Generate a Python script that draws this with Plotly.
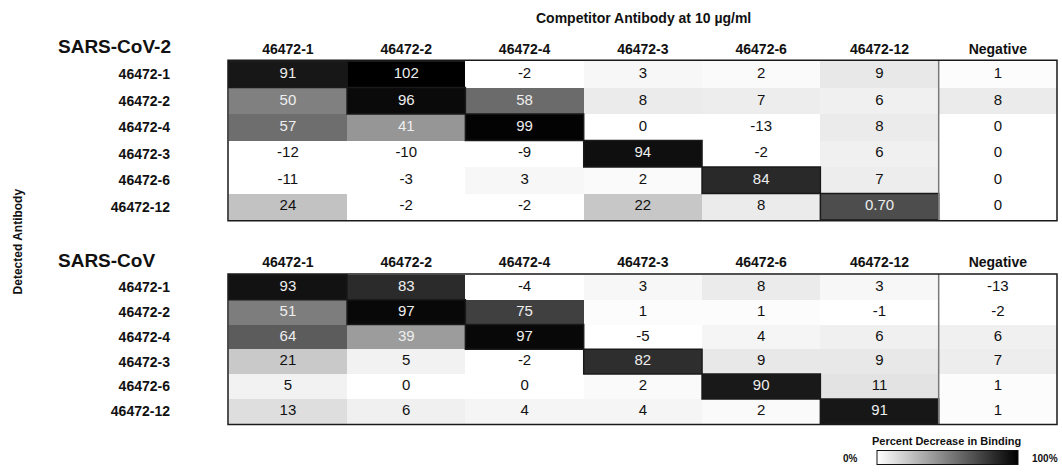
import plotly.graph_objects as go

# Antibody panel (rows = detected antibody, columns = competitor antibody)
antibodies = ["46472-1", "46472-2", "46472-4", "46472-3", "46472-6", "46472-12"]
competitors = antibodies + ["Negative"]

# Percent decrease in binding, SARS-CoV-2
cov2_values = [
    [91, 102, -2, 3, 2, 9, 1],
    [50, 96, 58, 8, 7, 6, 8],
    [57, 41, 99, 0, -13, 8, 0],
    [-12, -10, -9, 94, -2, 6, 0],
    [-11, -3, 3, 2, 84, 7, 0],
    [24, -2, -2, 22, 8, 70, 0],
]
# 46472-12 self-competition is reported as a fraction (0.70 = 70 %)
cov2_label_overrides = {(5, 5): "0.70"}

# Percent decrease in binding, SARS-CoV
cov1_values = [
    [93, 83, -4, 3, 8, 3, -13],
    [51, 97, 75, 1, 1, -1, -2],
    [64, 39, 97, -5, 4, 6, 6],
    [21, 5, -2, 82, 9, 9, 7],
    [5, 0, 0, 2, 90, 11, 1],
    [13, 6, 4, 4, 2, 91, 1],
]
cov1_label_overrides = {}

panel_titles = ["SARS-CoV-2", "SARS-CoV"]
x_title = "Competitor Antibody at 10 µg/ml"
y_title = "Detected Antibody"
scale_title = "Percent Decrease in Binding"
scale_min_label, scale_max_label = "0%", "100%"

FONT = "Liberation Sans, Arial, Helvetica, sans-serif"
W, H = 1062, 476

# Panel geometry in pixels (left, right, top, bottom)
TABLE_L, TABLE_R = 228, 1057
PANELS = [(61, 223), (277, 429)]


def px_x(v):
    return v / W


def px_y(v):
    return 1 - v / H


fig = go.Figure()

panel_data = [(cov2_values, cov2_label_overrides), (cov1_values, cov1_label_overrides)]
shapes = []
for k, (values, overrides) in enumerate(panel_data):
    xa = "x" if k == 0 else "x2"
    ya = "y" if k == 0 else "y2"
    fig.add_trace(go.Heatmap(
        z=values, x=competitors, y=antibodies,
        coloraxis="coloraxis", xaxis=xa, yaxis=ya,
        hoverinfo="skip", xgap=0, ygap=0,
    ))
    xs, ys, texts, colors = [], [], [], []
    for i, row in enumerate(values):
        for j, v in enumerate(row):
            xs.append(competitors[j])
            ys.append(antibodies[i])
            texts.append(overrides.get((i, j), str(v)))
            colors.append("#eeeeee" if v >= 35 else "#111111")
    fig.add_trace(go.Scatter(
        x=xs, y=ys, text=texts, mode="text",
        textfont=dict(family=FONT, size=15, color=colors),
        xaxis=xa, yaxis=ya, hoverinfo="skip", showlegend=False,
    ))
    # Self-competition cells outlined
    for i in range(len(antibodies)):
        shapes.append(dict(type="rect", xref=xa, yref=ya,
                           x0=i - 0.5, x1=i + 0.5, y0=i - 0.5, y1=i + 0.5,
                           line=dict(color="#1a1a1a", width=1.5)))
    # Separator before the negative control column
    shapes.append(dict(type="line", xref=xa, yref=ya + " domain",
                       x0=len(antibodies) - 0.5, x1=len(antibodies) - 0.5, y0=0, y1=1,
                       line=dict(color="#7a7a7a", width=1.5)))
    # Table frame
    shapes.append(dict(type="rect", xref=xa + " domain", yref=ya + " domain",
                       x0=0, x1=1, y0=0, y1=1,
                       line=dict(color="#1a1a1a", width=1.5)))

axis_common = dict(showgrid=False, zeroline=False, showline=False, ticks="")
x_common = dict(axis_common, side="top", ticklabelstandoff=3,
                tickfont=dict(family=FONT, size=14, color="#111", weight="bold"),
                domain=[px_x(TABLE_L), px_x(TABLE_R)])
y_common = dict(axis_common, autorange="reversed", ticklabelstandoff=57,
                tickfont=dict(family=FONT, size=14, color="#111", weight="bold"))

fig.update_layout(
    width=W, height=H,
    margin=dict(l=0, r=0, t=0, b=0),
    paper_bgcolor="white", plot_bgcolor="white",
    font=dict(family=FONT, color="#111"),
    xaxis=dict(x_common, anchor="y"),
    yaxis=dict(y_common, anchor="x", domain=[px_y(PANELS[0][1]), px_y(PANELS[0][0])]),
    xaxis2=dict(x_common, anchor="y2"),
    yaxis2=dict(y_common, anchor="x2", domain=[px_y(PANELS[1][1]), px_y(PANELS[1][0])]),
    coloraxis=dict(
        colorscale=[[0, "#ffffff"], [1, "#000000"]], cmin=0, cmax=100,
        colorbar=dict(
            orientation="h", x=px_x(947), xanchor="center",
            y=px_y(463), yanchor="middle",
            len=161, lenmode="pixels", thickness=14, thicknessmode="pixels",
            outlinewidth=1, outlinecolor="#111", showticklabels=False, ticks="",
        ),
    ),
    shapes=shapes,
    showlegend=False,
)

bold = dict(family=FONT, color="#111", weight="bold")
annotations = [
    dict(text=x_title, x=px_x(643), y=px_y(18), font=dict(bold, size=14)),
    dict(text=panel_titles[0], x=px_x(56), y=px_y(47), xanchor="left", font=dict(bold, size=19)),
    dict(text=panel_titles[1], x=px_x(56), y=px_y(263), xanchor="left", font=dict(bold, size=19)),
    dict(text=y_title, x=px_x(18), y=px_y(244), textangle=-90, font=dict(bold, size=12)),
    dict(text=scale_title, x=px_x(946), y=px_y(446), font=dict(bold, size=11)),
    dict(text=scale_min_label, x=px_x(850), y=px_y(463), font=dict(bold, size=10)),
    dict(text=scale_max_label, x=px_x(1060), y=px_y(463), xanchor="right", font=dict(bold, size=10)),
]
for a in annotations:
    a.update(xref="paper", yref="paper", showarrow=False)
    a.setdefault("xanchor", "center")
    a.setdefault("yanchor", "middle")
fig.update_layout(annotations=annotations)

fig.write_html("out.html")
